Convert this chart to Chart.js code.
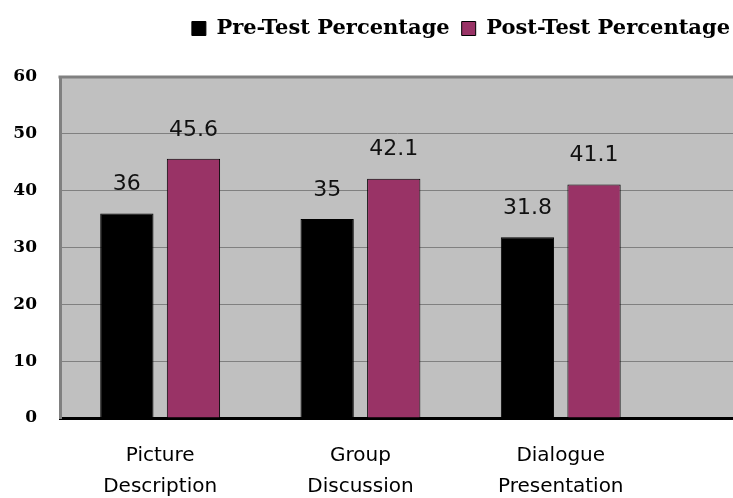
<!DOCTYPE html>
<html>
<head>
<meta charset="utf-8">
<script src="https://cdn.jsdelivr.net/npm/chart.js@4.4.1/dist/chart.umd.min.js"></script>
<style>
  html, body { margin: 0; padding: 0; background: #ffffff; }
  #wrap { width: 733px; height: 498px; position: relative; overflow: hidden; }
</style>
</head>
<body>
<div id="wrap"><canvas id="c"></canvas></div>
<script>
const categories = [["Picture", "Description"], ["Group", "Discussion"], ["Dialogue", "Presentation"]];
const seriesNames = ["Pre-Test Percentage", "Post-Test Percentage"];
const preTest = [36, 35, 31.8];
const postTest = [45.6, 42.1, 41.1];
const preLabels = ["36", "35", "31.8"];
const postLabels = ["45.6", "42.1", "41.1"];
const yTicks = [0, 10, 20, 30, 40, 50, 60];

const plotBg = {
  id: 'plotBg',
  afterInit(chart) {
    const lg = chart.legend;
    if (lg && !lg._patched) {
      const orig = lg.fit;
      lg.fit = function () { orig.call(this); this.height += 28; };
      lg._patched = true;
    }
  },
  beforeDraw(chart) {
    const { ctx, chartArea: a } = chart;
    ctx.save();
    ctx.fillStyle = '#ffffff';
    ctx.fillRect(0, 0, chart.width, chart.height);
    ctx.fillStyle = '#c0c0c0';
    ctx.fillRect(a.left, a.top, a.right - a.left, a.bottom - a.top);
    ctx.restore();
  },
  afterDraw(chart) {
    const { ctx, chartArea: a } = chart;
    ctx.save();
    ctx.strokeStyle = '#808080';
    ctx.lineWidth = 3;
    ctx.beginPath();
    ctx.moveTo(a.left - 1.5, a.top);
    ctx.lineTo(a.right, a.top);
    ctx.stroke();
    ctx.restore();
  }
};

const valueLabels = {
  id: 'valueLabels',
  afterDatasetsDraw(chart) {
    const { ctx } = chart;
    const texts = [preLabels, postLabels];
    ctx.save();
    ctx.font = '22px "DejaVu Sans"';
    ctx.fillStyle = '#111111';
    ctx.textAlign = 'center';
    ctx.textBaseline = 'middle';
    chart.data.datasets.forEach((ds, di) => {
      const meta = chart.getDatasetMeta(di);
      meta.data.forEach((bar, i) => {
        ctx.fillText(texts[di][i], bar.x, bar.y - 29);
      });
    });
    ctx.restore();
  }
};

new Chart(document.getElementById('c'), {
  type: 'bar',
  data: {
    labels: categories,
    datasets: [
      { label: seriesNames[0], data: preTest, backgroundColor: '#000000', borderColor: '#000000', borderWidth: 1,
        categoryPercentage: 0.665, barPercentage: 0.8 },
      { label: seriesNames[1], data: postTest, backgroundColor: '#993366', borderColor: '#000000', borderWidth: 1,
        categoryPercentage: 0.665, barPercentage: 0.8 }
    ]
  },
  options: {
    responsive: true,
    maintainAspectRatio: false,
    animation: false,
    layout: { padding: { top: 6, right: -9, left: 0, bottom: 0 } },
    plugins: {
      tooltip: { enabled: false },
      legend: {
        position: 'top',
        align: 'end',
        labels: {
          boxWidth: 14,
          boxHeight: 14,
          padding: 12,
          color: '#000000',
          font: { family: '"DejaVu Serif"', size: 21, weight: 'bold' }
        }
      }
    },
    scales: {
      x: {
        grid: { display: false },
        border: { display: true, color: '#000000', width: 3 },
        afterBuildTicks(scale) { scale._valueRange = 3.36; },
        afterFit(scale) { scale.height = 80; },
        ticks: {
          color: '#000000',
          padding: 14,
          maxRotation: 0,
          autoSkip: false,
          font: { family: '"DejaVu Sans"', size: 20, lineHeight: 1.55 }
        }
      },
      y: {
        min: 0,
        max: 60,
        afterFit(scale) { scale.width = 60; },
        afterBuildTicks(scale) { scale.ticks = yTicks.map(v => ({ value: v })); },
        grid: { color: '#808080', lineWidth: 1, drawTicks: false },
        border: { display: true, color: '#808080', width: 3 },
        ticks: {
          color: '#000000',
          padding: 23,
          font: { family: '"DejaVu Serif"', size: 17, weight: 'bold' }
        }
      }
    }
  },
  plugins: [plotBg, valueLabels]
});
</script>
</body>
</html>
